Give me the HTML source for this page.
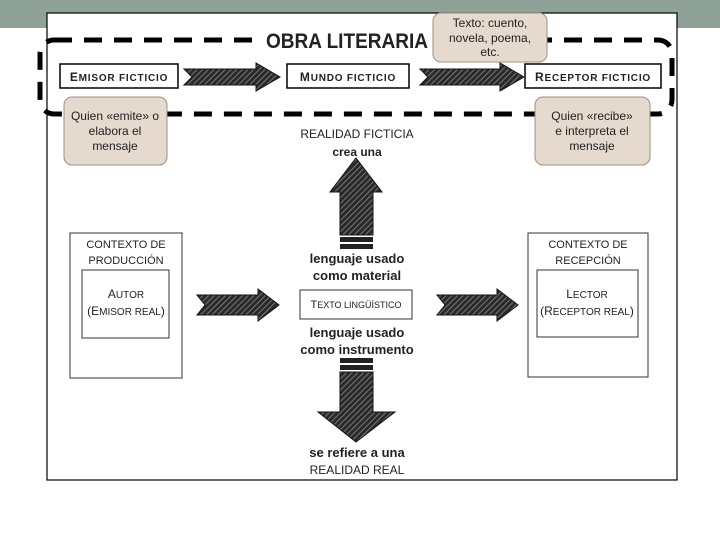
<!DOCTYPE html>
<html><head><meta charset="utf-8"><style>
html,body{margin:0;padding:0;background:#fff;}
svg{display:block;}
text{font-family:"Liberation Sans",sans-serif;}
</style></head><body>
<svg width="720" height="540" viewBox="0 0 720 540" xmlns="http://www.w3.org/2000/svg">
<defs>
<pattern id="h" width="4" height="4" patternUnits="userSpaceOnUse" patternTransform="rotate(45)">
<rect width="4" height="4" fill="#2a2a2a"/><rect width="1" height="4" fill="#777"/>
</pattern>
</defs>
<rect x="0" y="0" width="720" height="28" fill="#8fa298"/>
<rect x="47" y="13" width="630" height="467" fill="#fff" stroke="#000" stroke-width="1.2"/>
<rect x="40" y="40" width="632" height="74" rx="14" fill="none" stroke="#000" stroke-width="5" stroke-dasharray="18,12"/>
<rect x="255" y="26" width="178" height="30" fill="#fff"/>
<text x="347" y="48" font-size="21" font-weight="bold" text-anchor="middle" fill="#222" textLength="162" lengthAdjust="spacingAndGlyphs">OBRA LITERARIA</text>
<rect x="433" y="13" width="114" height="49" rx="8" fill="#e6d9cd" stroke="#9c8f84"/>
<text font-size="12" text-anchor="middle" fill="#222"><tspan x="490" y="27">Texto: cuento,</tspan><tspan x="490" y="42">novela, poema,</tspan><tspan x="490" y="56">etc.</tspan></text>
<rect x="60" y="64" width="118" height="24" fill="#fff" stroke="#000" stroke-width="1.5"/>
<text x="119" y="81" font-size="12" font-weight="bold" text-anchor="middle" fill="#222" letter-spacing="0.8">E<tspan font-size="10">MISOR FICTICIO</tspan></text>
<rect x="287" y="64" width="122" height="24" fill="#fff" stroke="#000" stroke-width="1.5"/>
<text x="348" y="81" font-size="12" font-weight="bold" text-anchor="middle" fill="#222" letter-spacing="0.8">M<tspan font-size="10">UNDO FICTICIO</tspan></text>
<rect x="525" y="64" width="136" height="24" fill="#fff" stroke="#000" stroke-width="1.5"/>
<text x="593" y="81" font-size="12" font-weight="bold" text-anchor="middle" fill="#222" letter-spacing="0.8">R<tspan font-size="10">ECEPTOR FICTICIO</tspan></text>
<polygon points="184,69 256,69 256,63 280,77 256,91 256,85 184,85 192,77" fill="url(#h)" stroke="#111"/>
<polygon points="420,69 500,69 500,63 524,77 500,91 500,85 420,85 428,77" fill="url(#h)" stroke="#111"/>
<rect x="64" y="97" width="103" height="68" rx="8" fill="#e6d9cd" stroke="#9c8f84"/>
<text font-size="12" text-anchor="middle" fill="#222"><tspan x="115" y="120">Quien «emite» o</tspan><tspan x="115" y="135">elabora el</tspan><tspan x="115" y="150">mensaje</tspan></text>
<rect x="535" y="97" width="115" height="68" rx="8" fill="#e6d9cd" stroke="#9c8f84"/>
<text font-size="12" text-anchor="middle" fill="#222"><tspan x="592" y="120">Quien «recibe»</tspan><tspan x="592" y="135">e interpreta el</tspan><tspan x="592" y="150">mensaje</tspan></text>
<text x="357" y="138" font-size="12" text-anchor="middle" fill="#222">REALIDAD FICTICIA</text>
<text x="357" y="156" font-size="12" font-weight="bold" text-anchor="middle" fill="#222">crea una</text>
<polygon points="356,158 382,192 373,192 373,235 340,235 340,192 330,192" fill="url(#h)" stroke="#111"/>
<rect x="340" y="237" width="33" height="5" fill="#222"/>
<rect x="340" y="244" width="33" height="5" fill="#222"/>
<text x="357" y="263" font-size="13" font-weight="bold" text-anchor="middle" fill="#222">lenguaje usado</text>
<text x="357" y="280" font-size="13" font-weight="bold" text-anchor="middle" fill="#222">como material</text>
<!-- left context -->
<rect x="70" y="233" width="112" height="145" fill="#fff" stroke="#333"/>
<text x="126" y="248" font-size="11" text-anchor="middle" fill="#222">CONTEXTO DE</text>
<text x="126" y="264" font-size="11" text-anchor="middle" fill="#222">PRODUCCIÓN</text>
<rect x="82" y="270" width="87" height="68" fill="#fff" stroke="#333"/>
<text x="126" y="298" font-size="12" text-anchor="middle" fill="#222">A<tspan font-size="10">UTOR</tspan></text>
<text x="126" y="315" font-size="12" text-anchor="middle" fill="#222">(E<tspan font-size="10">MISOR REAL</tspan>)</text>
<!-- right context -->
<rect x="528" y="233" width="120" height="144" fill="#fff" stroke="#333"/>
<text x="588" y="248" font-size="11" text-anchor="middle" fill="#222">CONTEXTO DE</text>
<text x="588" y="264" font-size="11" text-anchor="middle" fill="#222">RECEPCIÓN</text>
<rect x="537" y="270" width="101" height="67" fill="#fff" stroke="#333"/>
<text x="587" y="298" font-size="12" text-anchor="middle" fill="#222">L<tspan font-size="10">ECTOR</tspan></text>
<text x="587" y="315" font-size="12" text-anchor="middle" fill="#222">(R<tspan font-size="10">ECEPTOR REAL</tspan>)</text>
<polygon points="197,295 258,295 258,289 279,305 258,321 258,315 197,315 205,305" fill="url(#h)" stroke="#111"/>
<polygon points="437,295 497,295 497,289 518,305 497,321 497,315 437,315 445,305" fill="url(#h)" stroke="#111"/>
<rect x="300" y="290" width="112" height="29" fill="#fff" stroke="#333"/>
<text x="356" y="308" font-size="11" text-anchor="middle" fill="#222">T<tspan font-size="9">EXTO LINGÜÍSTICO</tspan></text>
<text x="357" y="337" font-size="13" font-weight="bold" text-anchor="middle" fill="#222">lenguaje usado</text>
<text x="357" y="354" font-size="13" font-weight="bold" text-anchor="middle" fill="#222">como instrumento</text>
<rect x="340" y="358" width="33" height="5" fill="#222"/>
<rect x="340" y="365" width="33" height="5" fill="#222"/>
<polygon points="340,372 373,372 373,412 395,412 356,442 318,412 340,412" fill="url(#h)" stroke="#111"/>
<text x="357" y="457" font-size="13" font-weight="bold" text-anchor="middle" fill="#222">se refiere a una</text>
<text x="357" y="474" font-size="12" text-anchor="middle" fill="#222">REALIDAD REAL</text>
</svg>
</body></html>
